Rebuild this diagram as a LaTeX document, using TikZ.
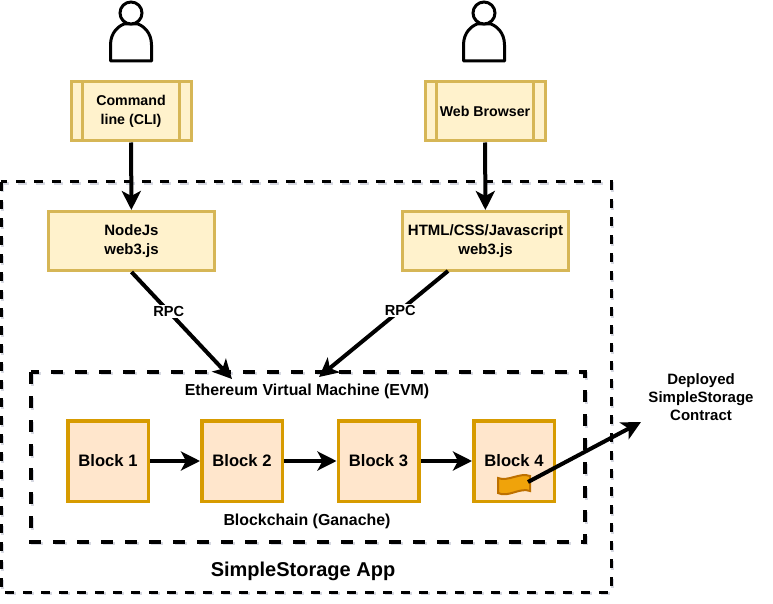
\documentclass[tikz,border=0pt]{standalone}
\usepackage{fontspec}
\setmainfont{Liberation Sans}
\usepackage{tikz}
\usetikzlibrary{arrows.meta,shadows}

\definecolor{shadowgray}{HTML}{8A8FA8}
\definecolor{yellowline}{HTML}{D6B656}
\definecolor{yellowfill}{HTML}{FFF2CC}
\definecolor{orangeline}{HTML}{D79B00}
\definecolor{orangefill}{HTML}{FFE6CC}
\definecolor{flagline}{HTML}{BD7000}
\definecolor{flagfill}{HTML}{F0A30A}

\tikzset{
  boxshadow/.style={drop shadow={shadow xshift=1.5pt, shadow yshift=-1.5pt, opacity=.5, fill=shadowgray}},
  softbox/.style={draw=yellowline, fill=yellowfill, line width=3pt, boxshadow, align=center,
    font=\fontsize{15}{18.5}\selectfont\bfseries, minimum height=59pt, inner sep=0pt},
  appbox/.style={softbox, minimum width=120pt, font=\fontsize{14.2}{18.5}\selectfont\bfseries},
  webbox/.style={softbox, minimum width=166pt},
  blockbox/.style={draw=orangeline, fill=orangefill, line width=3.5pt, boxshadow,
    font=\fontsize{16.6}{20}\selectfont\bfseries, minimum width=80.5pt, minimum height=80.5pt, inner sep=0pt},
  caption/.style={font=\fontsize{15.9}{18}\selectfont\bfseries, align=center, inner sep=0pt},
  rpclabel/.style={fill=white, inner sep=1.5pt, font=\fontsize{14.6}{16}\selectfont\bfseries},
  flow/.style={line width=4pt, -{Stealth[length=19pt, width=19pt, inset=5pt]}},
  inner line/.style={draw=yellowline, line width=3pt},
  person/.style={line width=3pt, line join=round, fill=white},
  outerdash/.style={line width=3pt, dash pattern=on 9pt off 9pt},
  innerdash/.style={line width=3.5pt, dash pattern=on 12pt off 12pt},
  shade line/.style={draw=shadowgray, opacity=.35, xshift=1.5pt, yshift=-1.5pt}
}

\begin{document}
\begin{tikzpicture}[x=1pt, y=-1pt]
  \useasboundingbox (0, 0) rectangle (773, 604);

  % the two boundaries
  \draw [outerdash, shade line] (1, 182) rectangle (611, 592);
  \draw [innerdash, shade line] (31, 372) rectangle (585, 542);
  \draw [outerdash] (1, 182) rectangle (611, 592);
  \draw [innerdash] (31, 372) rectangle (585, 542);

  % users
  \foreach \name/\cx in {cliuser/131, webuser/484} {
    \draw [person] (\cx-20.5, 61) -- (\cx-20.5, 45)
      .. controls (\cx-20.5, 32) and (\cx-12, 26) .. (\cx-7, 24)
      -- (\cx+7, 24)
      .. controls (\cx+12, 26) and (\cx+20.5, 32) .. (\cx+20.5, 45)
      -- (\cx+20.5, 61) -- cycle;
    \node [circle, draw, line width=3pt, fill=white, minimum size=22pt, inner sep=0pt] (\name) at (\cx, 13) {};
  }

  % boxes
  \node [appbox] (cli) at (131, 111.5) {Command\\line (CLI)};
  \node [appbox] (browser) at (485, 111.5) {Web Browser};
  \foreach \barbox in {cli, browser} {
    \draw [inner line] ([xshift=13pt]\barbox.north west) -- ([xshift=13pt]\barbox.south west);
    \draw [inner line] ([xshift=-13pt]\barbox.north east) -- ([xshift=-13pt]\barbox.south east);
  }
  \node [webbox] (nodejs) at (131.5, 241) {NodeJs\\web3.js};
  \node [webbox] (html) at (485.5, 241) {HTML/CSS/Javascript\\web3.js};

  \node [caption] (evm) at (307, 391) {Ethereum Virtual Machine (EVM)};
  \node [caption] (chain) at (307, 521) {Blockchain (Ganache)};
  \node [font=\fontsize{20}{24}\selectfont\bfseries, inner sep=0pt] (app) at (303, 571) {SimpleStorage App};
  \node [caption, font=\fontsize{15}{18}\selectfont\bfseries] (contract) at (701, 397) {Deployed\\SimpleStorage\\Contract};

  % blocks
  \node [blockbox] (blockone) at (108, 461) {Block 1};
  \node [blockbox] (blocktwo) at (242, 461) {Block 2};
  \node [blockbox] (blockthree) at (378.5, 461) {Block 3};
  \node [blockbox] (blockfour) at (514, 461) {Block 4};

  \draw [draw=flagline, fill=flagfill, line width=2pt]
    (498, 478) .. controls (508, 482) and (520, 472) .. (530, 476)
    -- (530, 491) .. controls (520, 487) and (508, 498) .. (498, 493) -- cycle;

  % connectors
  \coordinate (evmleft) at (232, 379);
  \coordinate (evmright) at (319, 377);
  \coordinate (htmlout) at (448, 271);
  \coordinate (flagend) at (528, 482);
  \coordinate (contractend) at (641, 422);
  \draw [flow] (cli) -- (nodejs);
  \draw [flow] (browser) -- (html);
  \draw [flow] (nodejs.south) -- node [rpclabel, pos=.37] (rpcleft) {RPC} (evmleft);
  \draw [flow] (htmlout) -- node [rpclabel, pos=.37] (rpcright) {RPC} (evmright);
  \draw [flow] (blockone) -- (blocktwo);
  \draw [flow] (blocktwo) -- (blockthree);
  \draw [flow] (blockthree) -- (blockfour);
  \draw [flow] (flagend) -- (contractend);
\end{tikzpicture}
\end{document}
